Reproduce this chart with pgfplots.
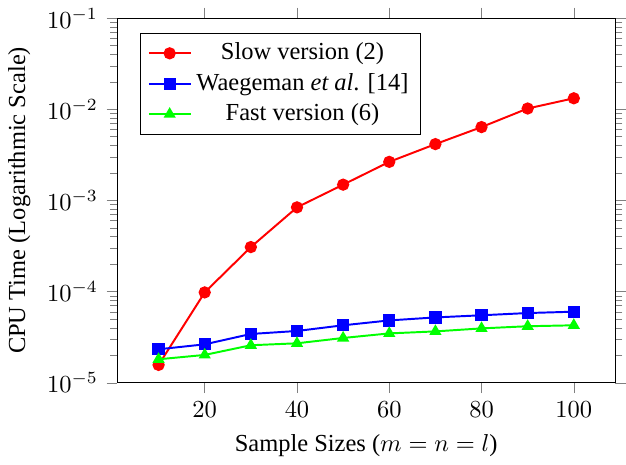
\documentclass[border=0pt]{standalone}
\usepackage{fontspec}
\setmainfont{Liberation Serif}
\usepackage{pgfplots}
\pgfplotsset{compat=1.18}

\begin{document}
\begin{tikzpicture}
\begin{semilogyaxis}[
scale only axis,
width=203.6pt,
height=149pt,
xmin=1, xmax=109,
ymin=1e-5, ymax=1e-1,
xtick={20,40,60,80,100},
tick align=outside,
major tick style={gray},
minor tick style={gray},
xlabel={Sample Sizes ($m=n=l$)},
ylabel={CPU Time (Logarithmic Scale)},
legend cell align=center,
legend style={at={(0.046,0.96)},anchor=north west,draw=black},
every axis plot/.append style={thick},
mark size=2.1pt
]
\addplot[red,mark=*,mark options={fill=red}] coordinates {
(10,1.57e-5) (20,9.8e-5) (30,3.08e-4) (40,8.4e-4) (50,1.49e-3)
(60,2.65e-3) (70,4.15e-3) (80,6.38e-3) (90,1.02e-2) (100,1.32e-2)};
\addlegendentry{Slow version (2)}
\addplot[blue,mark=square*,mark options={fill=blue}] coordinates {
(10,2.33e-5) (20,2.64e-5) (30,3.43e-5) (40,3.70e-5) (50,4.27e-5)
(60,4.83e-5) (70,5.21e-5) (80,5.50e-5) (90,5.82e-5) (100,6.02e-5)};
\addlegendentry{Waegeman \textit{et al}. [14]}
\addplot[green,mark=triangle*,mark options={fill=green}] coordinates {
(10,1.81e-5) (20,2.02e-5) (30,2.58e-5) (40,2.71e-5) (50,3.10e-5)
(60,3.48e-5) (70,3.66e-5) (80,3.95e-5) (90,4.17e-5) (100,4.27e-5)};
\addlegendentry{Fast version (6)}
\end{semilogyaxis}
\end{tikzpicture}
\end{document}
